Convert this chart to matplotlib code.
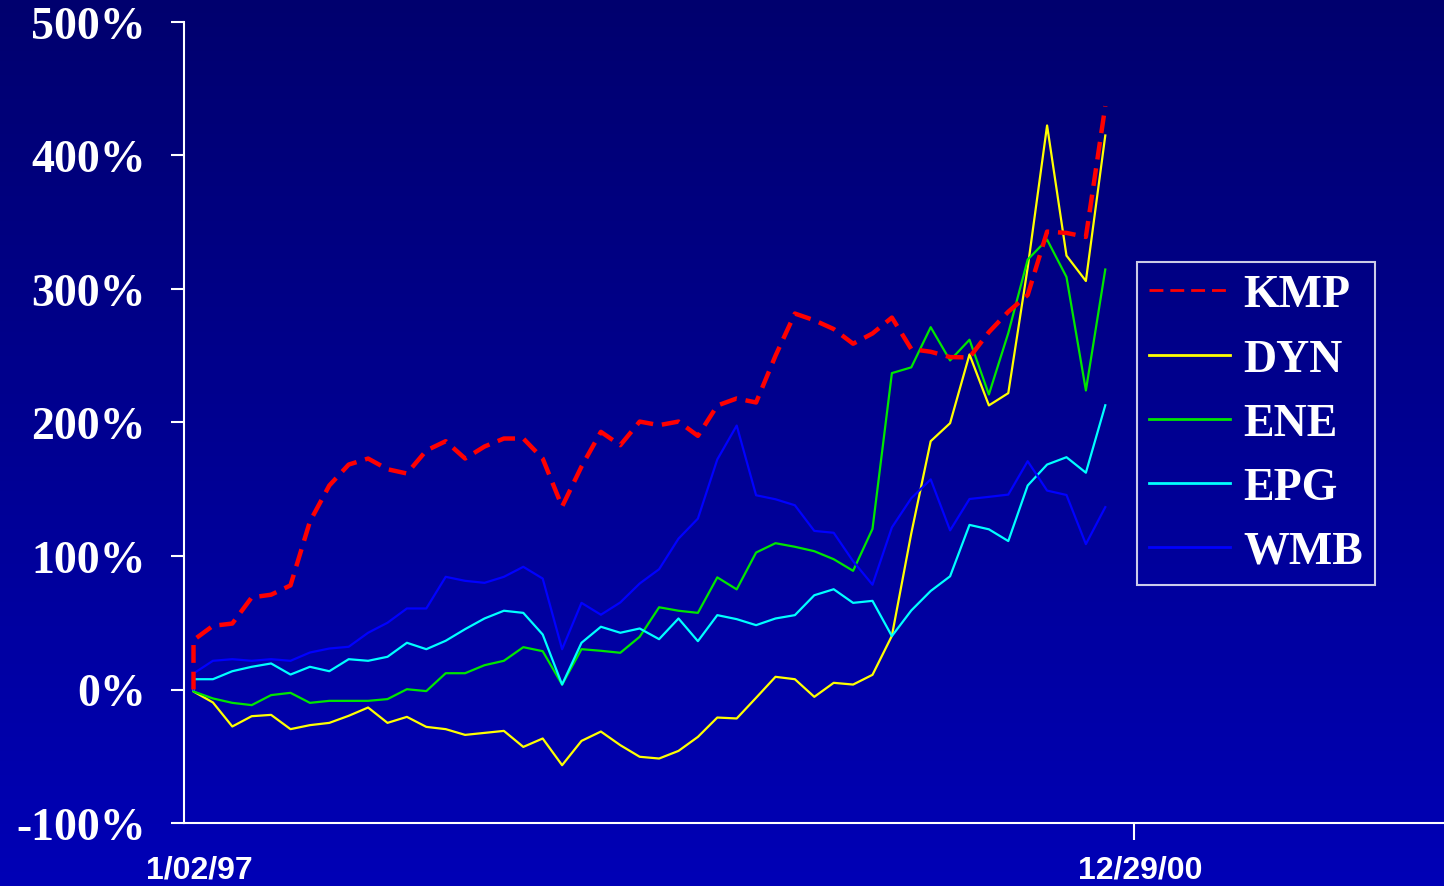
import numpy as np
import matplotlib
matplotlib.use("Agg")
import matplotlib.pyplot as plt
import matplotlib.transforms as mtransforms
from matplotlib.lines import Line2D
from matplotlib.colors import LinearSegmentedColormap

# Toplam getiri (%), 1/02/97 tabanı 0, ardından 48 aylık değer
tickers = ["KMP", "DYN", "ENE", "EPG", "WMB"]
colors = ["#FF0000", "#FFFF00", "#00E600", "#00FFFF", "#0000FF"]

kmp = [0, 37, 47.7, 49.4, 69, 71, 78, 125.8, 152.8, 168.5, 173, 165, 161.8,
       179, 186, 173, 182, 188, 188, 173, 137, 167, 193, 183, 200.7, 198,
       200.7, 190, 212.7, 218, 215, 250, 281.6, 276.6, 270, 259, 266.7, 278.6,
       255, 253, 249, 248.7, 267.7, 283, 295.5, 343, 342, 339, 437]
dyn = [0, -1.5, -9.7, -27.7, -20, -19, -29.7, -26.7, -25, -19.7, -13.5, -25,
       -20.5, -28, -29.7, -34, -32.5, -31, -43, -36.7, -56.7, -38.5, -31.5,
       -41.7, -50.4, -51.7, -46, -35.5, -21, -21.7, -6.2, 9.5, 7.7, -5.5, 5,
       3.7, 11, 40.2, 117, 186, 199.5, 251, 212.8, 222, 316, 422.5, 325, 306, 415]
ene = [0, -1.5, -6.7, -10, -11.7, -4.2, -2.5, -10, -8.5, -8.5, -8.5, -7.2, 0.2,
       -1.2, 12.2, 12.2, 18.2, 21.5, 31.7, 28.7, 3.7, 30.2, 29, 27.5, 39.5,
       61.6, 59, 57.4, 84, 75, 102.6, 109.6, 106.9, 103.6, 97.6, 88.9, 120.3,
       237, 241.3, 271.4, 246.5, 262, 221, 267, 322, 337, 309, 224, 314.6]
epg = [0, 7.7, 7.7, 13.7, 17, 19.5, 11.2, 17, 13.7, 22.7, 21.5, 24.5, 35, 30.2,
       36.5, 45.2, 53.2, 59, 57.4, 41.2, 3.7, 35, 47, 42.5, 45.7, 37.7, 53.2,
       36.2, 55.7, 52.7, 48.2, 53.2, 55.7, 70.6, 75.1, 64.9, 66.4, 40, 59.2,
       73.8, 84.8, 123.3, 120, 111.2, 152.8, 168.5, 174, 162.4, 212.9]
wmb = [0, 12, 21.5, 22.7, 21.5, 22.7, 21.5, 27.7, 30.7, 32, 42.5, 50, 60.7,
       60.7, 84.4, 81.4, 79.9, 84.4, 91.9, 83.1, 30.2, 64.9, 56, 65.2, 79.4,
       90.1, 113, 128, 172.3, 197.7, 145.5, 142.5, 138, 118.8, 117.4, 96.1,
       78.5, 121.4, 143.3, 157.4, 119.2, 142.7, 144.3, 146, 171, 149, 145.7,
       108.9, 136.6]

# taban noktası ve ilk ay aynı konumda çiziliyor
x = [0] + list(range(48))
x_labels = ["1/02/97", "12/29/00"]
x_label_pos = [0, 48.5]
y_ticks = [-100, 0, 100, 200, 300, 400, 500]

fig = plt.figure(figsize=(14.44, 8.87), dpi=100)

# arka plan: koyu laciverten maviye geçiş
bg = fig.add_axes([0, 0, 1, 1], zorder=-10)
cmap = LinearSegmentedColormap.from_list("bg", ["#00006E", "#0000B6"])
bg.imshow(np.linspace(0, 1, 256).reshape(-1, 1), aspect="auto", cmap=cmap,
          extent=[0, 1, 0, 1])
bg.axis("off")

ax = fig.add_axes([184 / 1444, 1 - 824 / 887, 1 - 184 / 1444, (824 - 23) / 887])
ax.set_facecolor("none")

series = [kmp, dyn, ene, epg, wmb]
for name, vals, c in zip(tickers, series, colors):
    if name == "KMP":
        ax.plot(x, vals, color=c, lw=3.2, linestyle=(0, (4, 2)), zorder=3)
    else:
        ax.plot(x, vals, color=c, lw=1.6, zorder=2)

ax.set_ylim(-100, 500)
ax.set_xlim(-0.49, 64.46)
ax.set_yticks(y_ticks)
ax.set_yticklabels([f"{v}%" for v in y_ticks], fontfamily="Liberation Serif",
                   fontweight="bold", fontsize=33, color="white")
ax.set_xticks(x_label_pos)
ax.set_xticklabels(x_labels, fontfamily="Liberation Sans", fontweight="bold",
                   fontsize=23, color="white")
ax.tick_params(axis="y", colors="white", length=9.5, width=1.5, pad=18)
ax.tick_params(axis="x", colors="white", length=12, width=1.5, pad=11)
ax.xaxis.get_major_ticks()[0].tick1line.set_visible(False)

# tarih etiketleri çentiğin biraz sağında duruyor
shift = mtransforms.ScaledTranslation(6 / 100, 0, fig.dpi_scale_trans)
for lbl in ax.get_xticklabels():
    lbl.set_transform(lbl.get_transform() + shift)

for s in ["top", "right"]:
    ax.spines[s].set_visible(False)
for s in ["left", "bottom"]:
    ax.spines[s].set_color("white")
    ax.spines[s].set_linewidth(1.5)

handles = []
for name, c in zip(tickers, colors):
    if name == "KMP":
        handles.append(Line2D([], [], color=c, lw=2, linestyle=(0, (5, 2.5))))
    else:
        handles.append(Line2D([], [], color=c, lw=2))
leg = fig.legend(handles, tickers, loc="upper left",
                 bbox_to_anchor=(1137 / 1444, 1 - 263 / 887),
                 prop={"family": "Liberation Serif", "weight": "bold", "size": 33},
                 frameon=True, fancybox=False, handlelength=1.75,
                 handletextpad=0.3, labelspacing=0.48, borderpad=0.27,
                 borderaxespad=0)
leg.get_frame().set_facecolor("none")
leg.get_frame().set_edgecolor("white")
leg.get_frame().set_linewidth(1.5)
for t in leg.get_texts():
    t.set_color("white")

fig.savefig("out.png", dpi=100)
